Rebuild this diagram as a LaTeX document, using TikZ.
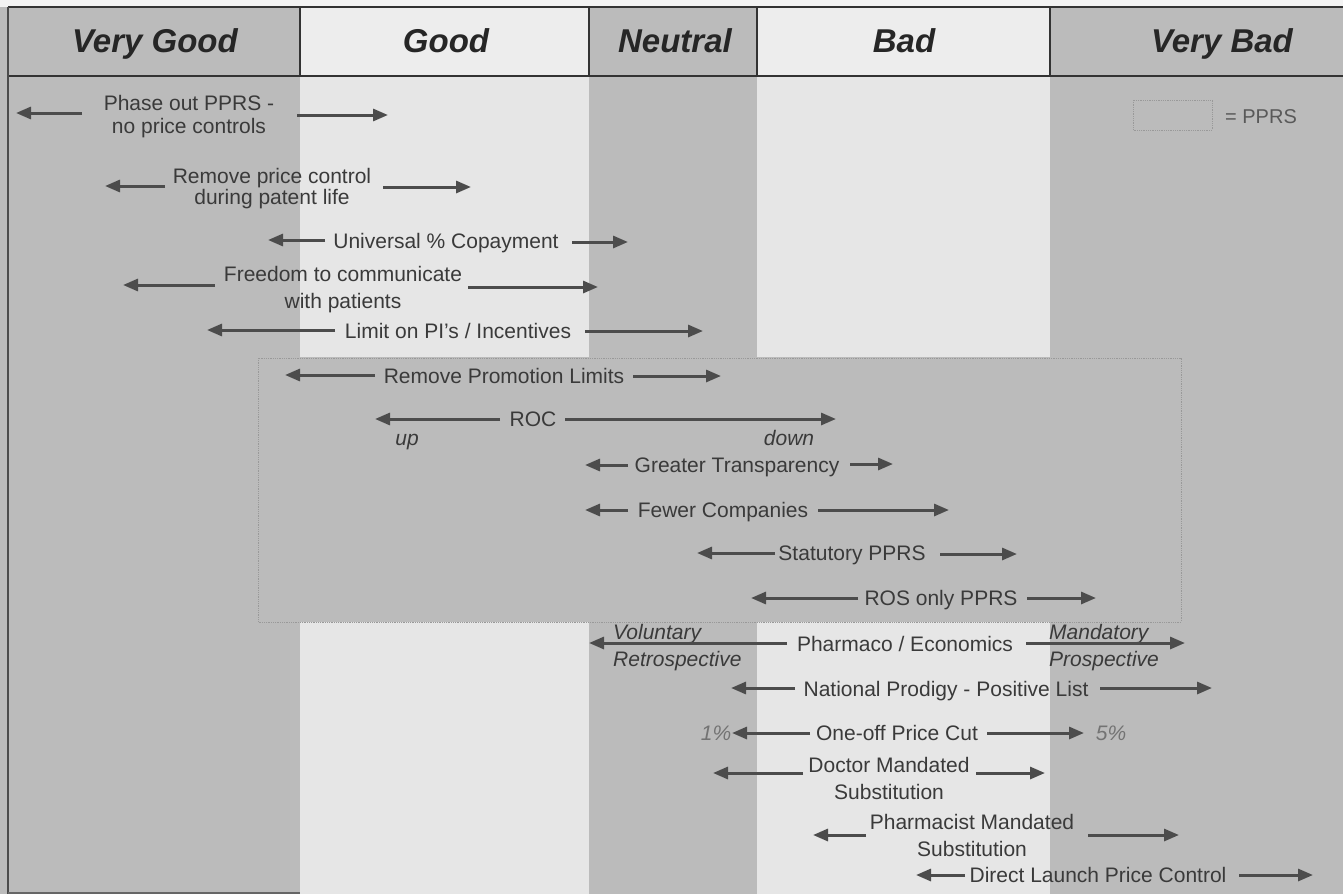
\documentclass[tikz,border=0pt]{standalone}
\usepackage{fontspec}
\setmainfont{Liberation Sans}
\usepackage{tikz}
\usetikzlibrary{arrows.meta}

\definecolor{darkcol}{RGB}{187,187,187}
\definecolor{lightcol}{RGB}{230,230,230}
\definecolor{ink}{RGB}{58,58,58}
\definecolor{arrowgray}{RGB}{76,76,76}

\begin{document}
\begin{tikzpicture}[x=1pt,y=-1pt,
    every node/.style={inner sep=0pt,text=ink,font=\fontsize{21}{24}\selectfont},
    txt/.style={text height=15pt,text depth=4.5pt},
    head/.style={anchor=base,font=\fontsize{33}{36}\selectfont\bfseries\itshape,text=black!85},
    note/.style={txt,font=\fontsize{21}{24}\selectfont\itshape},
    twoline/.style={align=center,font=\fontsize{21}{#1}\selectfont},
    arr/.style={draw=arrowgray,line width=3pt,-{Triangle[length=15pt,width=12pt]}},
    frame/.style={draw=black!80,line width=2.5pt}]

    \useasboundingbox (0,0) rectangle (1343,894);

    % background columns
    \fill[lightcol!50!white] (0,0) rectangle (1343,7);
    \fill[darkcol] (0,7) rectangle (1343,894);
    \fill[white!93!black] (300,7) rectangle (589,76);
    \fill[white!93!black] (757,7) rectangle (1050,76);
    \fill[lightcol] (300,76) rectangle (589,357);
    \fill[lightcol] (757,76) rectangle (1050,357);
    \fill[lightcol] (300,622) rectangle (589,894);
    \fill[lightcol] (757,622) rectangle (1050,894);

    % PPRS area
    \draw[black!40,densely dotted,line width=0.8pt] (258,358) rectangle (1181,622);
    \draw[black!40,densely dotted,line width=0.8pt] (1133,100) rectangle (1212,130);

    % header
    \draw[frame] (8,7) -- (1343,7);
    \draw[frame] (8,76) -- (1343,76);
    \draw[frame] (300,7) -- (300,76);
    \draw[frame] (589,7) -- (589,76);
    \draw[frame] (757,7) -- (757,76);
    \draw[frame] (1050,7) -- (1050,76);
    \draw[black!70,line width=2pt] (8,7) -- (8,894);
    \draw[black!60,line width=1.5pt] (8,893) -- (300,893);

    \node[head] (hvgood) at (155,52) {Very Good};
    \node[head] (hgood)  at (446,52) {Good};
    \node[head] (hneut)  at (675,52) {Neutral};
    \node[head] (hbad)   at (904,52) {Bad};
    \node[head] (hvbad)  at (1222,52) {Very Bad};

    \node[txt,text=black!65,font=\fontsize{20}{22}\selectfont] (legend) at (1261,118) {= PPRS};


    \node[twoline=23] (phase)      at (189,117) {Phase out PPRS -\\no price controls};
    \node[twoline=21] (removepc)   at (272,189) {Remove price control\\during patent life};
    \node[txt]        (copay)      at (446,243) {Universal \% Copayment};
    \node[twoline=27] (freedom)    at (343,290) {Freedom to communicate\\with patients};
    \node[txt]        (limit)      at (458,333) {Limit on PI's / Incentives};
    \node[txt]        (promo)      at (504,378) {Remove Promotion Limits};
    \node[txt]        (roc)        at (533,421) {ROC};
    \node[txt]        (transp)     at (737,467) {Greater Transparency};
    \node[txt]        (fewer)      at (723,512) {Fewer Companies};
    \node[txt]        (statut)     at (852,555) {Statutory PPRS};
    \node[txt]        (ros)        at (941,600) {ROS only PPRS};
    \node[txt]        (pharma)     at (905,646) {Pharmaco / Economics};
    \node[txt]        (prodigy)    at (946,691) {National Prodigy - Positive List};
    \node[txt]        (pricecut)   at (897,735) {One-off Price Cut};
    \node[twoline=27] (doctor)     at (889,778) {Doctor Mandated\\Substitution};
    \node[twoline=27] (pharmacist) at (972,835) {Pharmacist Mandated\\Substitution};
    \node[txt]        (launch)     at (1098,877) {Direct Launch Price Control};

    \node[note] (up)    at (407,440) {up};
    \node[note] (down)  at (789,440) {down};
    \node[note,anchor=west] (volun) at (613,634) {Voluntary};
    \node[note,anchor=west] (retro) at (613,661) {Retrospective};
    \node[note,anchor=west] (manda) at (1049,634) {Mandatory};
    \node[note,anchor=west] (prosp) at (1049,661) {Prospective};
    \node[note,text=black!55] (onepc)  at (716,735) {1\%};
    \node[note,text=black!55] (fivepc) at (1111,735) {5\%};

    % arrow ends: tail a, head b
    \coordinate (phaseLa) at (82,113);   \coordinate (phaseLb) at (16,113);
    \coordinate (phaseRa) at (297,115);  \coordinate (phaseRb) at (388,115);
    \coordinate (removeLa) at (165,186); \coordinate (removeLb) at (105,186);
    \coordinate (removeRa) at (383,187); \coordinate (removeRb) at (471,187);
    \coordinate (copayLa) at (325,240);  \coordinate (copayLb) at (268,240);
    \coordinate (copayRa) at (572,242);  \coordinate (copayRb) at (628,242);
    \coordinate (freeLa) at (215,285);   \coordinate (freeLb) at (123,285);
    \coordinate (freeRa) at (468,287);   \coordinate (freeRb) at (598,287);
    \coordinate (limitLa) at (335,330);  \coordinate (limitLb) at (207,330);
    \coordinate (limitRa) at (585,331);  \coordinate (limitRb) at (703,331);
    \coordinate (promoLa) at (375,375);  \coordinate (promoLb) at (285,375);
    \coordinate (promoRa) at (633,376);  \coordinate (promoRb) at (721,376);
    \coordinate (rocLa) at (500,419);    \coordinate (rocLb) at (375,419);
    \coordinate (rocRa) at (565,419);    \coordinate (rocRb) at (836,419);
    \coordinate (transLa) at (628,465);  \coordinate (transLb) at (585,465);
    \coordinate (transRa) at (850,464);  \coordinate (transRb) at (893,464);
    \coordinate (fewerLa) at (628,510);  \coordinate (fewerLb) at (585,510);
    \coordinate (fewerRa) at (818,510);  \coordinate (fewerRb) at (949,510);
    \coordinate (statLa) at (775,553);   \coordinate (statLb) at (697,553);
    \coordinate (statRa) at (940,554);   \coordinate (statRb) at (1017,554);
    \coordinate (rosLa) at (858,598);    \coordinate (rosLb) at (751,598);
    \coordinate (rosRa) at (1027,598);   \coordinate (rosRb) at (1096,598);
    \coordinate (pharLa) at (787,643);   \coordinate (pharLb) at (589,643);
    \coordinate (pharRa) at (1026,643);  \coordinate (pharRb) at (1185,643);
    \coordinate (prodLa) at (795,688);   \coordinate (prodLb) at (731,688);
    \coordinate (prodRa) at (1100,688);  \coordinate (prodRb) at (1212,688);
    \coordinate (cutLa) at (810,733);    \coordinate (cutLb) at (732,733);
    \coordinate (cutRa) at (987,733);    \coordinate (cutRb) at (1084,733);
    \coordinate (docLa) at (803,773);    \coordinate (docLb) at (713,773);
    \coordinate (docRa) at (976,773);    \coordinate (docRb) at (1045,773);
    \coordinate (pmLa) at (866,835);     \coordinate (pmLb) at (813,835);
    \coordinate (pmRa) at (1088,835);    \coordinate (pmRb) at (1179,835);
    \coordinate (dlLa) at (965,875);     \coordinate (dlLb) at (916,875);
    \coordinate (dlRa) at (1239,875);    \coordinate (dlRb) at (1313,875);

    \foreach \e in {phase,remove,copay,free,limit,promo,roc,trans,fewer,stat,ros,phar,prod,cut,doc,pm,dl}{
        \draw (\e La) edge[arr] (\e Lb);
        \draw (\e Ra) edge[arr] (\e Rb);
    }
\end{tikzpicture}
\end{document}
